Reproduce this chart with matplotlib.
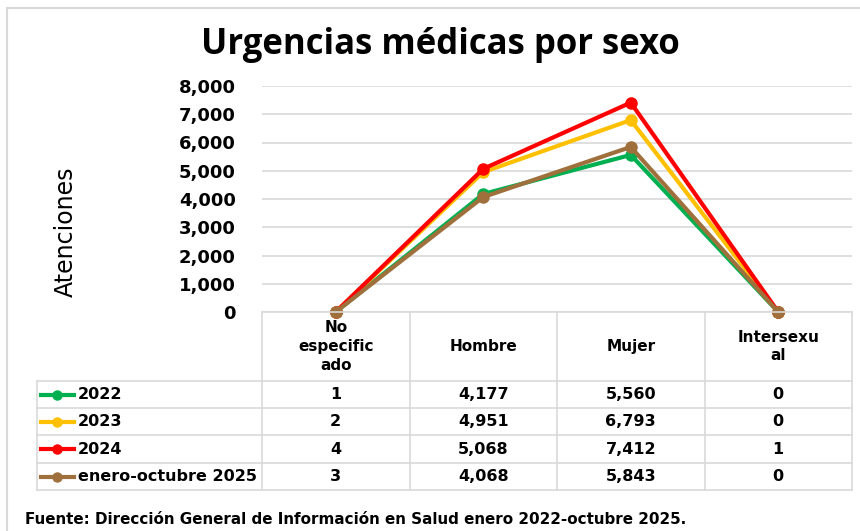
import matplotlib
matplotlib.use("Agg")
import matplotlib.pyplot as plt
from matplotlib.lines import Line2D

categories = ["No\nespecific\nado", "Hombre", "Mujer", "Intersexu\nal"]
series_names = ["2022", "2023", "2024", "enero-octubre 2025"]
v2022 = [1, 4177, 5560, 0]
v2023 = [2, 4951, 6793, 0]
v2024 = [4, 5068, 7412, 1]
v2025 = [3, 4068, 5843, 0]
series_values = [v2022, v2023, v2024, v2025]
colors = ["#00B050", "#FFC000", "#FF0000", "#A0703C"]
yticks = [0, 1000, 2000, 3000, 4000, 5000, 6000, 7000, 8000]

W, H = 860, 531
fig = plt.figure(figsize=(W / 100, H / 100), dpi=100)
plt.rcParams['font.family'] = ['DejaVu Sans']

def fx(px):
    return px / W

def fy(py):
    return 1 - py / H

ax_left, ax_right, ax_top, ax_bot = 262, 852, 86, 312
ax = fig.add_axes([fx(ax_left), fy(ax_bot), fx(ax_right - ax_left), (ax_bot - ax_top) / H])

n = len(categories)
xs = list(range(n))
for vals, col in zip(series_values, colors):
    ax.plot(xs, vals, color=col, lw=3, marker='o', ms=8, solid_capstyle='round', zorder=3, clip_on=False)

ax.set_xlim(-0.5, n - 0.5)
ax.set_ylim(0, 8000)
ax.set_yticks(yticks)
ax.set_yticklabels([f"{t:,}" for t in yticks], fontsize=13, fontweight='bold')
ax.tick_params(axis='y', length=0, pad=19)
ax.set_xticks([])
ax.grid(axis='y', color='#D9D9D9', lw=1.2)
ax.set_axisbelow(True)
for s in ax.spines.values():
    s.set_visible(False)

# Title, y-label, source
fig.text(fx(440), fy(45), "Urgencias médicas por sexo", ha='center', va='center',
         fontsize=25, fontweight='bold', family='Open Sans')
fig.text(fx(66), fy(232), "Atenciones", rotation=90, ha='center', va='center', fontsize=17)
fig.text(fx(25), fy(519), "Fuente: Dirección General de Información en Salud enero 2022-octubre 2025.",
         ha='left', va='center', fontsize=10.9, fontweight='bold')

# Chart border (light gray)
fig.add_artist(Line2D([fx(7), fx(860)], [fy(8), fy(8)], color='#D9D9D9', lw=1.5))
fig.add_artist(Line2D([fx(7), fx(7)], [fy(8), fy(531)], color='#D9D9D9', lw=1.5))

# Data table
grid_col = '#D9D9D9'
tbl_left = 37
col_edges = [ax_left + (ax_right - ax_left) * i / n for i in range(n + 1)]
row_edges = [312, 381, 408, 435, 463, 490]

def hline(y, x0, x1):
    fig.add_artist(Line2D([fx(x0), fx(x1)], [fy(y), fy(y)], color=grid_col, lw=1.2))

def vline(x, y0, y1):
    fig.add_artist(Line2D([fx(x), fx(x)], [fy(y0), fy(y1)], color=grid_col, lw=1.2))

hline(row_edges[0], col_edges[0], col_edges[-1])
for y in row_edges[1:]:
    hline(y, tbl_left, col_edges[-1])
for x in col_edges:
    vline(x, row_edges[0], row_edges[-1])
vline(tbl_left, row_edges[1], row_edges[-1])

for i, cat in enumerate(categories):
    cx = (col_edges[i] + col_edges[i + 1]) / 2
    cy = (row_edges[0] + row_edges[1]) / 2
    fig.text(fx(cx), fy(cy), cat, ha='center', va='center', fontsize=11,
             fontweight='bold', linespacing=1.3)

for r, (name, vals, col) in enumerate(zip(series_names, series_values, colors)):
    cy = (row_edges[r + 1] + row_edges[r + 2]) / 2
    fig.add_artist(Line2D([fx(41), fx(74)], [fy(cy), fy(cy)], color=col, lw=3))
    fig.add_artist(Line2D([fx(57.5)], [fy(cy)], color=col, marker='o', ms=6.5, lw=0))
    fig.text(fx(78), fy(cy), name, ha='left', va='center', fontsize=11.5, fontweight='bold')
    for i, v in enumerate(vals):
        cx = (col_edges[i] + col_edges[i + 1]) / 2
        fig.text(fx(cx), fy(cy), f"{v:,}", ha='center', va='center', fontsize=11.5, fontweight='bold')

fig.savefig("out.png", dpi=100)
